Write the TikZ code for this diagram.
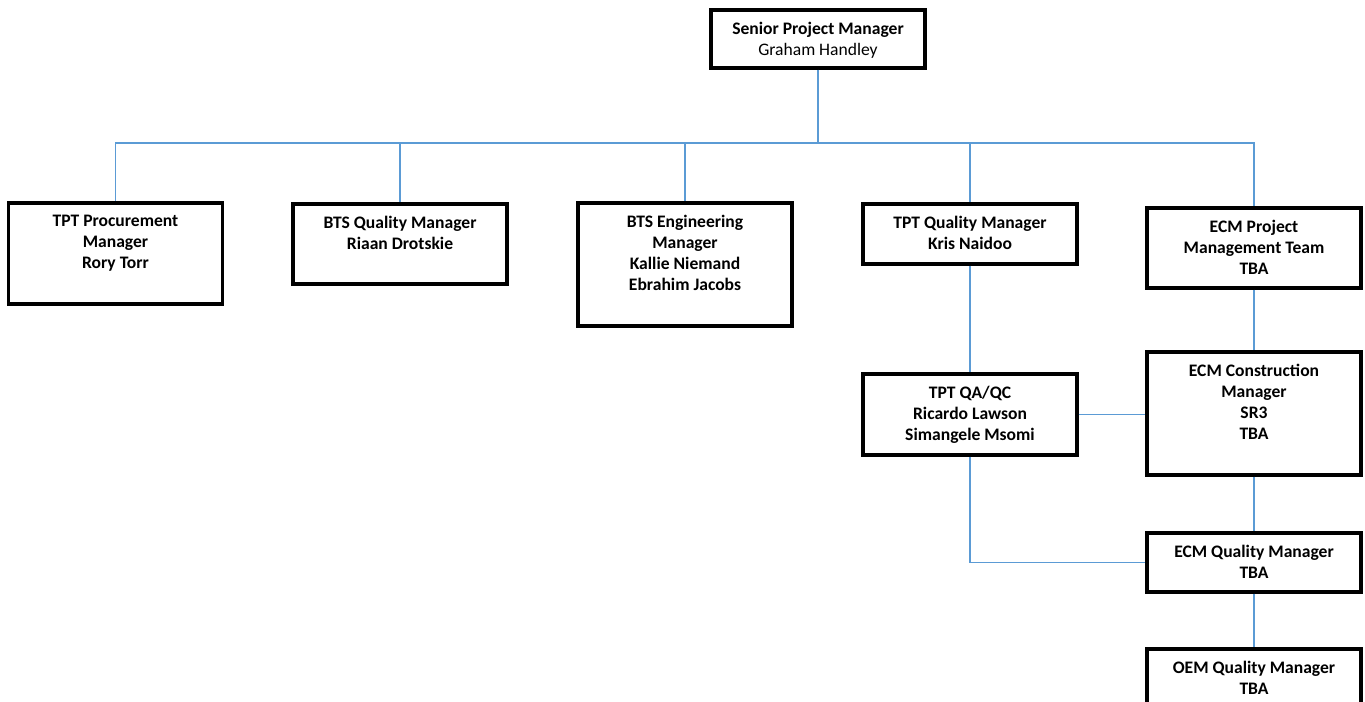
\documentclass[tikz,border=0pt]{standalone}
\usepackage{fontspec}
\setmainfont{Carlito}
\definecolor{linkblue}{RGB}{91,155,213}
\tikzset{
  box/.style={draw, line width=1.9pt, minimum width=4.28cm, inner sep=0pt},
  boxtext/.style={anchor=north, align=center, inner sep=0pt,
    yshift=-7.4pt, font=\bfseries\fontsize{10}{12}\selectfont},
  link/.style={draw=linkblue, line width=0.85pt}
}
\begin{document}
\begin{tikzpicture}[x=0.02cm, y=-0.02cm]
    \useasboundingbox (0,0) rectangle (1365,701);
    % Top of the chart
    \node[box, minimum height=1.16cm] (spm) at (818,39) {};
    \node[boxtext] (spm-t) at (spm.north) {Senior Project Manager\\{\mdseries Graham Handley}};
    \coordinate (bus) at (818,143);
    % First row
    \node[box, minimum height=2.02cm] (proc) at (115.5,253.5) {};
    \node[boxtext] (proc-t) at (proc.north) {TPT Procurement\\Manager\\Rory Torr};
    \node[box, minimum height=1.6cm] (btsq) at (400,244) {};
    \node[boxtext] (btsq-t) at (btsq.north) {BTS Quality Manager\\Riaan Drotskie};
    \node[box, minimum height=2.46cm] (btse) at (685,264.5) {};
    \node[boxtext] (btse-t) at (btse.north) {BTS Engineering\\Manager\\Kallie Niemand\\Ebrahim Jacobs};
    \node[box, minimum height=1.2cm] (tptq) at (970,234) {};
    \node[boxtext] (tptq-t) at (tptq.north) {TPT Quality Manager\\Kris Naidoo};
    \node[box, minimum height=1.6cm] (ecmpm) at (1254,248) {};
    \node[boxtext] (ecmpm-t) at (ecmpm.north) {ECM Project\\Management Team\\TBA};
    % Lower boxes
    \node[box, minimum height=1.62cm] (qaqc) at (970,414.5) {};
    \node[boxtext] (qaqc-t) at (qaqc.north) {TPT QA/QC\\Ricardo Lawson\\Simangele Msomi};
    \node[box, minimum height=2.46cm] (ecmc) at (1254,413.5) {};
    \node[boxtext] (ecmc-t) at (ecmc.north) {ECM Construction\\Manager\\SR3\\TBA};
    \node[box, minimum height=1.18cm] (ecmq) at (1254,562.5) {};
    \node[boxtext] (ecmq-t) at (ecmq.north) {ECM Quality Manager\\TBA};
    \node[box, minimum height=1.42cm] (oem) at (1254,684.5) {};
    \node[boxtext] (oem-t) at (oem.north) {OEM Quality Manager\\TBA};
    % Connectors
    \draw[link] (spm.south) -- (bus);
    \foreach \n in {proc,btsq,btse,tptq,ecmpm} {
        \draw[link] (bus) -| (\n.north);
    }
    \draw[link] (tptq.south) -- (qaqc.north);
    \draw[link] (ecmpm.south) -- (ecmc.north);
    \draw[link] (qaqc.east) -- (qaqc.east -| ecmc.west);
    \draw[link] (ecmc.south) -- (ecmq.north);
    \draw[link] (qaqc.south) |- (ecmq.west);
    \draw[link] (ecmq.south) -- (oem.north);
\end{tikzpicture}
\end{document}
